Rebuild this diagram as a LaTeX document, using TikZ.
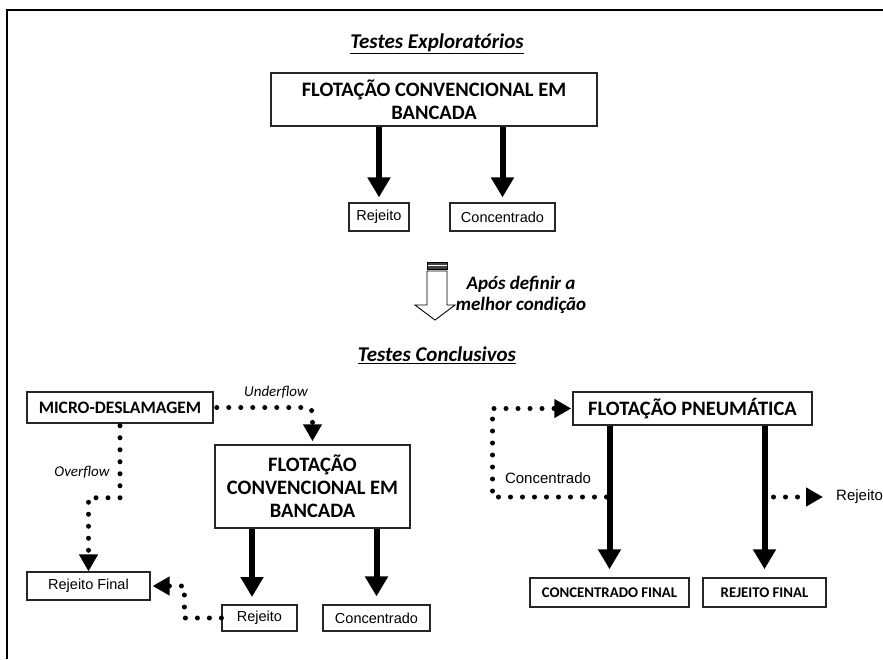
\documentclass[tikz,border=0pt]{standalone}
\usepackage{fontspec}
\setmainfont{Carlito}
\newfontfamily\arialfont{Liberation Sans}
\usetikzlibrary{arrows.meta,calc}

\tikzset{
  stage/.style={draw=black!85, line width=1.5pt, fill=white, align=center,
                font=\bfseries\fontsize{20.5}{23}\selectfont, inner sep=2pt},
  outbox/.style={draw=black!85, line width=1.2pt, fill=white,
                 font=\arialfont\fontsize{14.5}{16}\selectfont, inner sep=2pt},
  finalbox/.style={draw=black!85, line width=1.5pt, fill=white,
                   font=\bfseries\fontsize{14.8}{17}\selectfont, inner sep=2pt},
  heading/.style={font=\bfseries\itshape\fontsize{21}{24}\selectfont},
  flowlabel/.style={font=\itshape\fontsize{15}{17}\selectfont},
  plainlabel/.style={font=\arialfont\fontsize{15}{17}\selectfont},
  thickflow/.style={line width=6pt, -{Triangle[length=20pt,width=22pt]}},
  dotflow/.style={line width=5pt, line cap=round, dash pattern=on 0pt off 12pt,
                  -{Triangle[length=17pt,width=18pt]}},
}

\begin{document}
\begin{tikzpicture}[x=1pt,y=-1pt]
\useasboundingbox (0,0) rectangle (883,659);

% frame
\draw[line width=1.6pt] (7,659) -- (7,10) -- (883,10);

% ---------------- exploratory tests ----------------
\node[heading] (t1) at (437,44) {\underline{Testes Exploratórios}};
\node[stage, minimum width=326pt, minimum height=53pt] (fc1) at (434,99.5)
  {FLOTAÇÃO CONVENCIONAL EM\\BANCADA};
\node[outbox, minimum width=60pt, minimum height=28pt] (rj1) at (379,217) {Rejeito};
\node[outbox, minimum width=105pt, minimum height=28pt] (cc1) at (502.5,217) {Concentrado};

\draw[thickflow, shorten >=5pt] (fc1.south -| rj1.north) -- (rj1.north);
\draw[thickflow, shorten >=5pt] (fc1.south -| cc1.north) -- (cc1.north);

% hollow transition arrow
\draw[line width=0.9pt, fill=white, line join=miter]
  (427,271) -- (447,271) -- (447,305) -- (455,305) -- (435,320)
  -- (415,305) -- (427,305) -- cycle;
\draw[line width=0.9pt, fill=black!75] (427,262) rectangle (447,269);
\draw[line width=0.6pt, white] (427.5,265.5) -- (446.5,265.5);

\node[heading, align=center, font=\bfseries\itshape\fontsize{19}{22}\selectfont]
  (apos) at (521,295) {Após definir a\\[-1pt]melhor condição};

% ---------------- conclusive tests ----------------
\node[heading] (t2) at (437,355) {\underline{Testes Conclusivos}};

% left branch
\node[stage, minimum width=186pt, minimum height=31pt, font=\bfseries\fontsize{17.5}{20}\selectfont]
  (mic) at (120,407.5) {MICRO-DESLAMAGEM};
\node[stage, minimum width=195pt, minimum height=83pt] (fc2) at (312.5,486.5)
  {FLOTAÇÃO\\CONVENCIONAL EM\\BANCADA};
\node[outbox, minimum width=123pt, minimum height=28pt] (rjf) at (88.5,586) {Rejeito Final};
\node[outbox, minimum width=75pt, minimum height=26pt] (rj2) at (259.5,618) {Rejeito};
\node[outbox, minimum width=107pt, minimum height=26pt] (cc2) at (376.5,618) {Concentrado};

\draw[dotflow, rounded corners=6pt, shorten <=3pt, shorten >=3pt]
  (mic.east) -| (fc2.north);
\node[flowlabel] (uf) at (276,392) {Underflow};

\draw[dotflow, shorten <=2pt]
  (mic.south) -- ++(0,74) -| (rjf.north);
\node[flowlabel] (of) at (82,472) {Overflow};

\draw[thickflow, shorten >=8pt] (fc2.south -| 252,0) -- (252,605);
\draw[thickflow, shorten >=8pt] (fc2.south -| cc2.north) -- (cc2.north);

\draw[dotflow, shorten >=2pt]
  (rj2.west) -- ++(-37,0) |- (rjf.east);

% right branch
\node[stage, minimum width=239pt, minimum height=33pt] (pn) at (692.5,408.5)
  {FLOTAÇÃO PNEUMÁTICA};
\node[finalbox, minimum width=159pt, minimum height=29pt] (cf) at (609.5,592.5)
  {CONCENTRADO FINAL};
\node[finalbox, minimum width=123pt, minimum height=29pt] (rf) at (764.5,592.5)
  {REJEITO FINAL};

\coordinate (cj) at (cf.north |- 0,497);
\coordinate (rjj) at (rf.north |- 0,497);

\draw[thickflow, shorten >=8pt] (pn.south -| cf.north) -- (cf.north);
\draw[thickflow, shorten >=8pt] (pn.south -| rf.north) -- (rf.north);

\draw[dotflow, shorten <=3pt, shorten >=1pt]
  (cj) -- ++(-117,0) |- (pn.west);
\node[plainlabel] (cl) at (548,478) {Concentrado};

\node[plainlabel, anchor=west, inner sep=0pt] (rl) at (836,497) {Rejeito};
\draw[dotflow, shorten <=9pt, shorten >=13pt] (rjj) -- (rl.west);
\end{tikzpicture}
\end{document}
